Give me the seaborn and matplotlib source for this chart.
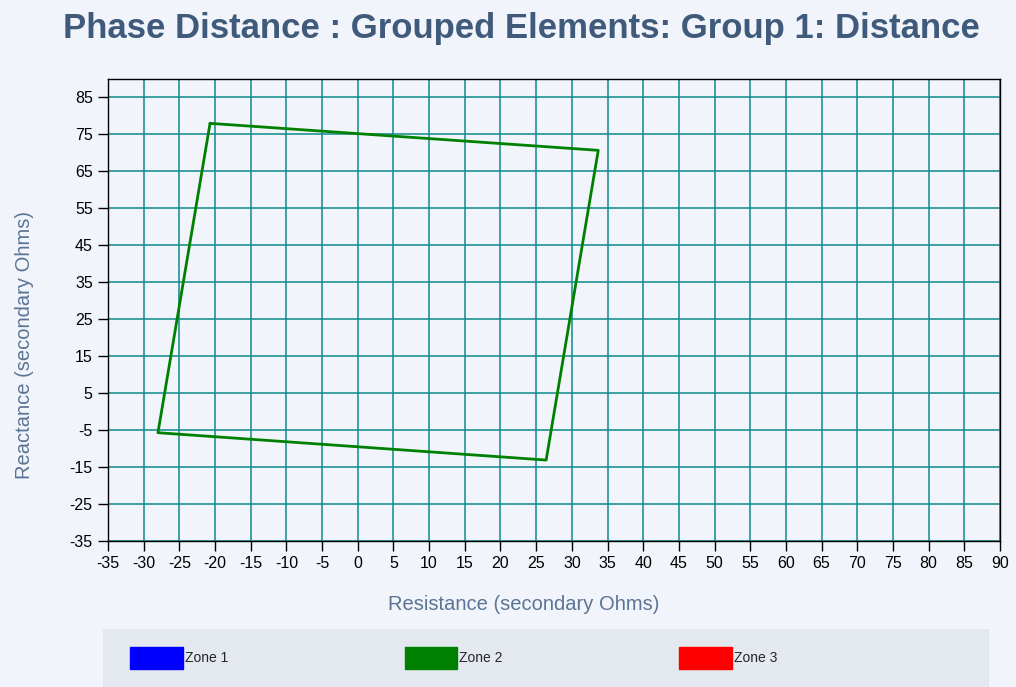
import matplotlib
matplotlib.use('Agg')
import matplotlib.pyplot as plt
import matplotlib.patches as mpatches
import numpy as np
import pandas as pd
import seaborn as sns

# 区域名称和颜色
zones = ['Zone 1', 'Zone 2', 'Zone 3']
zone_colors = ['#0000FF', '#008000', '#FF0000']

# Zone 2 多边形 (电阻, 电抗)
zone2_r = [-20.7, 33.7, 26.4, -28.0, -20.7]
zone2_x = [78.0, 70.7, -13.1, -5.7, 78.0]

x_ticks = list(range(-35, 95, 5))
y_ticks = list(range(-35, 95, 10))

BG = '#F1F5FB'
GRID = '#0E8A8A'
LABEL = '#5B7494'


def main():
    sns.set_theme(style='white')
    plt.rcParams['font.family'] = ['Liberation Sans', 'DejaVu Sans']
    plt.rcParams['axes.unicode_minus'] = False

    df = pd.DataFrame({
        'zone': ['Zone 2'] * len(zone2_r),
        'order': range(len(zone2_r)),
        'R': zone2_r,
        'X': zone2_x,
    })

    fig = plt.figure(figsize=(10.16, 6.87), dpi=100, facecolor=BG)
    ax = fig.add_axes([108 / 1016, 1 - 541 / 687, 892 / 1016, 462 / 687])
    ax.set_facecolor(BG)

    sns.lineplot(data=df, x='R', y='X', hue='zone', sort=False, estimator=None,
                 palette=dict(zip(zones, zone_colors)), linewidth=2.0,
                 legend=False, ax=ax, zorder=3)

    ax.set_xlim(-35, 90)
    ax.set_ylim(-35, 90)
    ax.set_xticks(x_ticks)
    ax.set_yticks(y_ticks)
    ax.grid(True, color=GRID, linewidth=1.1)
    ax.set_axisbelow(True)
    for s in ax.spines.values():
        s.set_color('black')
        s.set_linewidth(1.0)
        s.set_visible(True)
    ax.tick_params(axis='both', direction='out', length=7, width=1,
                   color='black', labelsize=11.5, labelcolor='black', pad=4)
    ax.tick_params(axis='both', which='both', bottom=True, left=True)

    ax.set_xlabel('Resistance (secondary Ohms)', fontsize=14.5, color=LABEL)
    ax.set_ylabel('Reactance (secondary Ohms)', fontsize=14.5, color=LABEL)
    ax.xaxis.set_label_coords((524 - 108) / 892, (541 - 595) / 462)
    ax.yaxis.set_label_coords((34 - 108) / 892, (541 - 345) / 462)

    fig.text(521 / 1016, 1 - 38 / 687,
             'Phase Distance : Grouped Elements: Group 1: Distance',
             ha='center', va='baseline', fontsize=25, fontweight='bold',
             color='#3F5A7A')

    # 图例框
    lax = fig.add_axes([103 / 1016, 0, 886 / 1016, 58 / 687])
    lax.set_facecolor('#E4E9EF')
    lax.set_xticks([])
    lax.set_yticks([])
    for s in lax.spines.values():
        s.set_visible(False)
    handles = [mpatches.Patch(facecolor=c, edgecolor=c, label=z)
               for z, c in zip(zones, zone_colors)]
    lax.legend(handles=handles, loc='center left',
               bbox_to_anchor=((130 - 103) / 886, 0.5),
               ncol=3, frameon=False, fontsize=10, handlelength=3.8,
               handleheight=2.15, handletextpad=0.15, columnspacing=12.7,
               borderpad=0, borderaxespad=0)

    fig.savefig('out.png', dpi=100, facecolor=BG)


if __name__ == '__main__':
    main()
